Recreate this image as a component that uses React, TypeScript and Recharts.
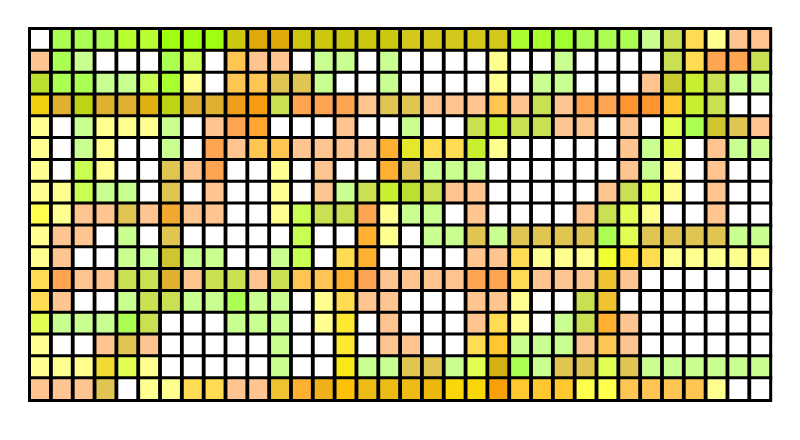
import React from 'react';
import { BarChart, Bar, Cell, XAxis, YAxis, Rectangle } from 'recharts';

// one letter per cell, left to right, looked up in levelColors
const row00 = [...'wnnnbbcccurruuuuuzzzzzssSnnngvylpp'];
const row01 = [...'pngwwwnkwmppwggwgwwwwlwwgwwwwvyoov'];
const row02 = [...'fnnggkslwmmhhgwwgwwwwlwggwwwpCBvgg'];
const row03 = [...'qtxttixttjJvooophhpppmpvpooddYBvww'];
const row04 = [...'lwglllgwpoAwwwpwwgwwvBvvppwpwenDhp'];
const row05 = [...'lwglwwgwopmmppppaEyyBlwwwwwpgewpgg'];
const row06 = [...'lwklwwhpowwlwpwwahgggwwwwwwpglwpww'];
const row07 = [...'llkggwhwpwwlwpgvBfvppwwwwwpvelwpww'];
const row08 = [...'QlpphpTppwwlkvvolggwpwwwwpvelwwpww'];
const row09 = [...'lppwgwhwwwwwkwwalwgghghhhhnehhhhgg'];
const row10 = [...'lpwwggDggwwgkwyawwwwppylllFXylllll'];
const row11 = [...'yoppvvtpvvpvmmaoppppooypppIpwwwwww'];
const row12 = [...'ypwwgvvggnggwlyppwwwpplwwvIwwwwwww'];
const row13 = [...'egggnvwwwgggwlHwpwwwpylwgvapwwwwww'];
const row14 = [...'lwwphpwwwwwgwwHwppwwyYgggpmpwwwwww'];
const row15 = [...'lllRelwwwwwgwwUgghhgeVnghhehgggggg'];
const row16 = [...'ppphwllyyppIaWZGGGKLLMYYYQQmmmmlww'];

const rows = [
  row00, row01, row02, row03, row04, row05, row06, row07, row08,
  row09, row10, row11, row12, row13, row14, row15, row16,
];

const levelColors: Record<string, string> = {
  w: '#ffffff', p: '#ffc590', o: '#ffa552', d: '#ff9430', a: '#ffb030',
  m: '#ffc552', y: '#ffdc52', l: '#ffff90', g: '#c8ff90', n: '#aaff52',
  k: '#c8ff52', e: '#e0ff52', v: '#c8e052', h: '#e0c552', t: '#e0b030',
  b: '#b8ff30', c: '#a0ff10', s: '#aaff30', S: '#a0ff30', u: '#ccc810',
  r: '#e0a808', z: '#d4c81c', f: '#bce030', q: '#f0d010', x: '#bcd414',
  i: '#e0b010', j: '#f09c1c', J: '#fa9c10', A: '#ffa530', C: '#c8cc30',
  B: '#c8f030', D: '#d0c430', Y: '#ffc830', E: '#e4e828', Q: '#ffff4c',
  T: '#f0a830', F: '#f0ff30', X: '#ffdc30', I: '#f0c430', H: '#ffe830',
  R: '#f0dc30', U: '#f8e818', V: '#d4b014', W: '#f0b01c', Z: '#ffc008',
  G: '#ecbc14', K: '#ecb80c', L: '#f8d808', M: '#f8a008',
};

const tableData = row00.map((_, col) => {
  const entry: Record<string, number> = { col };
  rows.forEach((_, r) => {
    entry[`r${r}`] = 1;
  });
  return entry;
});

// cells keep a 1px gap, so the 3px outlines meet as 4px lines inside the grid
const renderCell = (props: any) => (
  <Rectangle
    x={props.x + 0.5}
    y={props.y + 0.5}
    width={props.width - 1}
    height={props.height - 1}
    fill={props.fill}
    stroke="#000000"
    strokeWidth={3}
  />
);

export default function App() {
  return (
    <div style={{ position: 'absolute', left: 0, top: 0, width: 800, height: 440 }}>
      <BarChart
        width={800}
        height={440}
        data={tableData}
        barCategoryGap={0}
        margin={{ top: 29, right: 29, bottom: 40, left: 29 }}
      >
        <XAxis dataKey="col" hide />
        <YAxis type="number" domain={[0, rows.length]} reversed hide />
        {rows.map((row, r) => (
          <Bar
            key={r}
            dataKey={`r${r}`}
            stackId="grid"
            stroke="#000000"
            strokeWidth={3}
            shape={renderCell}
            isAnimationActive={false}
          >
            {row.map((code, col) => (
              <Cell key={col} fill={levelColors[code]} />
            ))}
          </Bar>
        ))}
      </BarChart>
    </div>
  );
}
